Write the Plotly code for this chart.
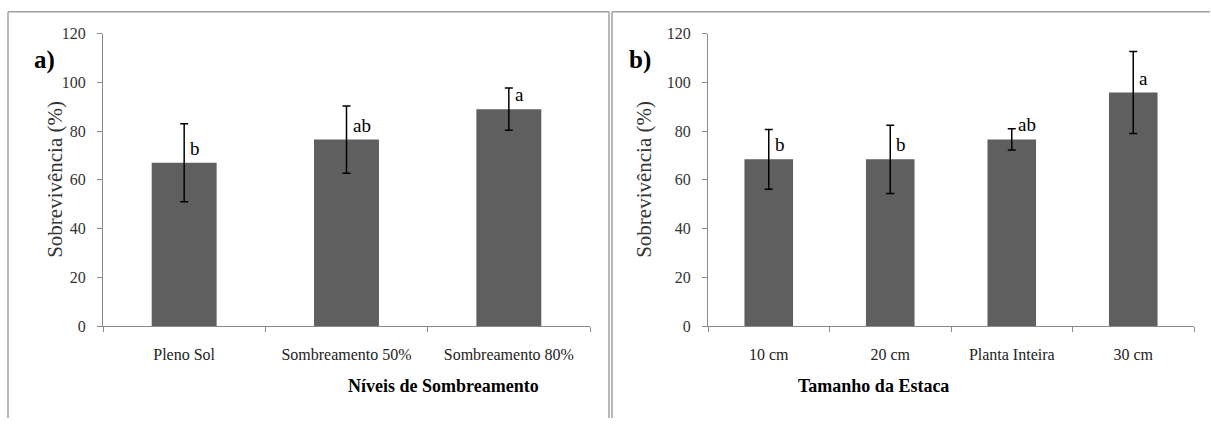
import plotly.graph_objects as go

# ---- data ----
cats_a = ["Pleno Sol", "Sombreamento 50%", "Sombreamento 80%"]
vals_a = [67, 76.5, 89]
err_a = [16, 13.8, 8.7]
letters_a = ["b", "ab", "a"]

cats_b = ["10 cm", "20 cm", "Planta Inteira", "30 cm"]
vals_b = [68.4, 68.4, 76.6, 95.8]
err_b = [12.3, 14, 4.4, 16.8]
letters_b = ["b", "b", "ab", "a"]

yticks = [0, 20, 40, 60, 80, 100, 120]

W, H = 1211, 428
FONT = "Liberation Serif"
BAR = "#5f5f5f"
AX = "#8a8a8a"

def px(x):
    return x / W

def py(y):
    # compensate the slight vertical squeeze seen in the rendered capture
    return 1 - ((y - 6.3) / 0.965) / H

def py_raw(y):
    return 1 - y / H

fig = go.Figure()
fig.add_trace(go.Bar(x=cats_a, y=vals_a, marker=dict(color=BAR, line=dict(width=0)),
                     error_y=dict(type="data", array=err_a, color="black", thickness=1.5, width=4),
                     xaxis="x", yaxis="y", showlegend=False))
fig.add_trace(go.Bar(x=cats_b, y=vals_b, marker=dict(color=BAR, line=dict(width=0)),
                     error_y=dict(type="data", array=err_b, color="black", thickness=1.5, width=4),
                     xaxis="x2", yaxis="y2", showlegend=False))

ydom = [py(326), py(32)]
xcommon = dict(showline=True, linecolor=AX, linewidth=1, ticks="outside", tickson="boundaries",
               ticklen=5, tickcolor=AX, showgrid=False, zeroline=False, tickangle=0,
               tickfont=dict(family=FONT, size=16, color="#222"), ticklabelstandoff=14,
               fixedrange=True)
ycommon = dict(range=[0, 120], tickvals=yticks, showline=True, linecolor=AX, linewidth=1,
               ticks="outside", ticklen=5, tickcolor=AX, showgrid=False, zeroline=False,
               tickfont=dict(family=FONT, size=16, color="#333"), ticklabelstandoff=8,
               domain=ydom, fixedrange=True)

annotations = []
for cats, vals, letters, xr in [(cats_a, vals_a, letters_a, "x"), (cats_b, vals_b, letters_b, "x2")]:
    for c, v, l in zip(cats, vals, letters):
        annotations.append(dict(x=c, y=v, xref=xr, yref="y" if xr == "x" else "y2", text=l,
                                showarrow=False, xanchor="left", yanchor="bottom",
                                xshift=4, yshift=2,
                                font=dict(family=FONT, size=19, color="black")))

annotations += [
    dict(x=px(346), y=py(398), xref="paper", yref="paper", text="<b>Níveis de Sombreamento</b>",
         showarrow=False, font=dict(family=FONT, size=18, color="black")),
    dict(x=px(951), y=py(398), xref="paper", yref="paper", text="<b>Tamanho da Estaca</b>",
         showarrow=False, font=dict(family=FONT, size=18, color="black")),
    dict(x=px(41), y=py(179), xref="paper", yref="paper", text="Sobrevivência (%)", textangle=-90,
         showarrow=False, font=dict(family=FONT, size=21, color="#333")),
    dict(x=px(644), y=py(179), xref="paper", yref="paper", text="Sobrevivência (%)", textangle=-90,
         showarrow=False, font=dict(family=FONT, size=21, color="#333")),
    dict(x=px(32), y=py(42), xref="paper", yref="paper", text="<b>a)</b>",
         showarrow=False, font=dict(family=FONT, size=25, color="black")),
    dict(x=px(640), y=py(42), xref="paper", yref="paper", text="<b>b)</b>",
         showarrow=False, font=dict(family=FONT, size=25, color="black")),
]

# panel frames: only edges inside the page (no overflow)
BORDER = dict(color="#a0a0a0", width=1.5)
top = py(10)
bot = py_raw(427)
frame_lines = [
    (8, top, 609, top), (8, top, 8, bot), (609, top, 609, bot),
    (612, top, 1210, top), (612, top, 612, bot),
]
shapes = [dict(type="line", xref="paper", yref="paper", x0=px(a), y0=b, x1=px(c), y1=d,
               line=BORDER, layer="below") for a, b, c, d in frame_lines]

fig.update_layout(
    width=W, height=H, autosize=False,
    margin=dict(l=0, r=0, t=0, b=0),
    paper_bgcolor="white", plot_bgcolor="white",
    bargap=0.6,
    xaxis=dict(domain=[px(103), px(590)], anchor="y", **xcommon),
    yaxis=dict(anchor="x", **ycommon),
    xaxis2=dict(domain=[px(708), px(1194)], anchor="y2", **xcommon),
    yaxis2=dict(anchor="x2", **ycommon),
    annotations=annotations,
    shapes=shapes,
    font=dict(family=FONT),
)

post = (
    "var s=document.createElement('style');"
    "s.textContent='html,body{margin:0 !important;padding:0 !important;width:1211px;height:428px;"
    "overflow:hidden !important;} .plotly-graph-div,.svg-container,.main-svg{overflow:hidden !important;}';"
    "document.head.appendChild(s);"
    "var d=document.getElementById('{plot_id}');d.style.position='absolute';"
    "d.style.top='0px';d.style.left='0px';"
)
fig.write_html("out.html", config={"displayModeBar": False}, post_script=post)
